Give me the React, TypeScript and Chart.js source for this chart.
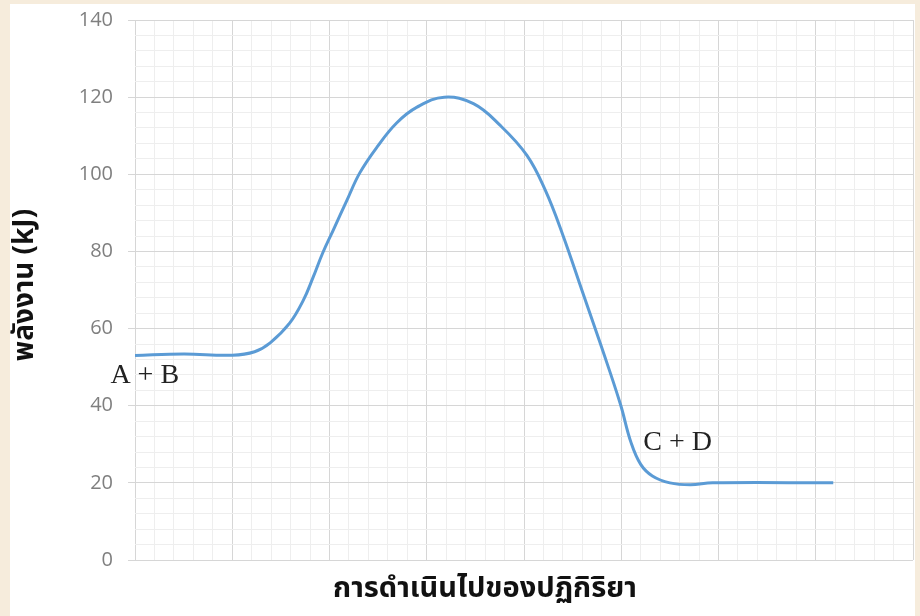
import React, { useEffect, useRef } from "react";
import { Chart, registerables } from "chart.js";

Chart.register(...registerables);

// Reaction progress (x) and potential energy in kJ (y) along the reaction path
const progress = [0, 0.5, 1.0, 1.23, 1.39, 1.59, 1.73, 1.83, 1.93, 2.04, 2.18, 2.31, 2.49, 2.69, 2.9, 3.18, 3.48, 3.75, 4.03, 4.22, 4.4, 4.6, 4.8, 4.99, 5.1, 5.2, 5.32, 5.5, 5.71, 5.94, 7.18];
const energy = [53, 53.4, 53.1, 54, 56.3, 61.4, 67.3, 73.2, 79.6, 85.6, 93.3, 100.3, 107.1, 113.3, 117.4, 120, 118.3, 112.8, 104.9, 95.8, 84.2, 69.6, 55, 40.5, 30.5, 24.8, 21.8, 20, 19.5, 20, 20];

// Species labels placed in data units (x = progress, y = energy at baseline)
const speciesText = ["A + B", "C + D"];
const speciesX = [0.1, 5.58];
const speciesY = [45.9, 28.5];

const yTitle = "พลังงาน (kJ)";
const xTitle = "การดำเนินไปของปฏิกิริยา";

const THAI = "'Noto Sans Thai', 'Noto Sans Thai UI', 'Noto Sans', 'DejaVu Sans', sans-serif";

const isMajor = (v: number, step: number) => Math.abs(v / step - Math.round(v / step)) < 1e-6;

const labelsPlugin = {
  id: "chartLabels",
  afterDatasetsDraw(chart: any) {
    const { ctx, scales } = chart;
    ctx.save();
    // species names beside the plateaus
    ctx.font = "28px 'Liberation Serif', 'Times New Roman', serif";
    ctx.fillStyle = "#222222";
    ctx.textAlign = "center";
    ctx.textBaseline = "alphabetic";
    speciesText.forEach((t, i) => {
      ctx.fillText(t, scales.x.getPixelForValue(speciesX[i]), scales.y.getPixelForValue(speciesY[i]));
    });
    // axis titles
    ctx.fillStyle = "#111111";
    ctx.textBaseline = "middle";
    ctx.font = `bold 29px ${THAI}`;
    ctx.fillText(xTitle, 485, 591);
    ctx.translate(27, 285);
    ctx.rotate(-Math.PI / 2);
    ctx.font = `bold 28px ${THAI}`;
    ctx.fillText(yTitle, 0, 0);
    ctx.restore();
  },
};

export default function App() {
  const ref = useRef<HTMLCanvasElement>(null);

  useEffect(() => {
    if (!ref.current) return;
    const chart = new Chart(ref.current, {
      type: "line",
      data: {
        datasets: [
          {
            data: progress.map((x, i) => ({ x, y: energy[i] })),
            borderColor: "#5b9bd5",
            borderWidth: 3,
            pointRadius: 0,
            tension: 0.4,
            fill: false,
          },
        ],
      },
      options: {
        animation: false,
        responsive: false,
        maintainAspectRatio: false,
        layout: { padding: { left: 0, right: 7, top: 20, bottom: 0 } },
        plugins: {
          legend: { display: false },
          tooltip: { enabled: false },
        },
        scales: {
          x: {
            type: "linear",
            min: 0,
            max: 8,
            border: { display: false },
            ticks: { display: false, stepSize: 0.2 },
            grid: {
              drawTicks: false,
              color: (c: any) => (isMajor(c.tick.value, 1) ? "#d6d6d6" : "#eeeeee"),
              lineWidth: 1,
            },
            afterFit: (s: any) => {
              s.height = 56;
            },
          },
          y: {
            type: "linear",
            min: 0,
            max: 140,
            border: { display: false },
            ticks: {
              stepSize: 4,
              padding: 15,
              color: "#7f7f7f",
              font: { family: "'Open Sans', 'Liberation Sans', sans-serif", size: 20 },
              callback: (v: any) => (isMajor(Number(v), 20) ? String(v) : ""),
              autoSkip: false,
            },
            grid: {
              tickLength: 7,
              color: (c: any) => (isMajor(c.tick.value, 20) ? "#d6d6d6" : "#eeeeee"),
              tickColor: (c: any) => (isMajor(c.tick.value, 20) ? "#d6d6d6" : "rgba(0,0,0,0)"),
              lineWidth: 1,
            },
            afterFit: (s: any) => {
              s.width = 135;
              s.paddingTop = 0;
              s.paddingBottom = 0;
            },
          },
        },
      },
      plugins: [labelsPlugin],
    } as any);
    return () => chart.destroy();
  }, []);

  return (
    <div style={{ position: "fixed", left: 0, top: 0, width: 920, height: 616, background: "#f6ecdc", overflow: "hidden" }}>
      <div style={{ position: "absolute", left: 10, top: 4, width: 905, height: 612, background: "#ffffff" }} />
      <canvas ref={ref} width={920} height={616} style={{ position: "absolute", left: 0, top: 0, width: 920, height: 616 }} />
    </div>
  );
}
